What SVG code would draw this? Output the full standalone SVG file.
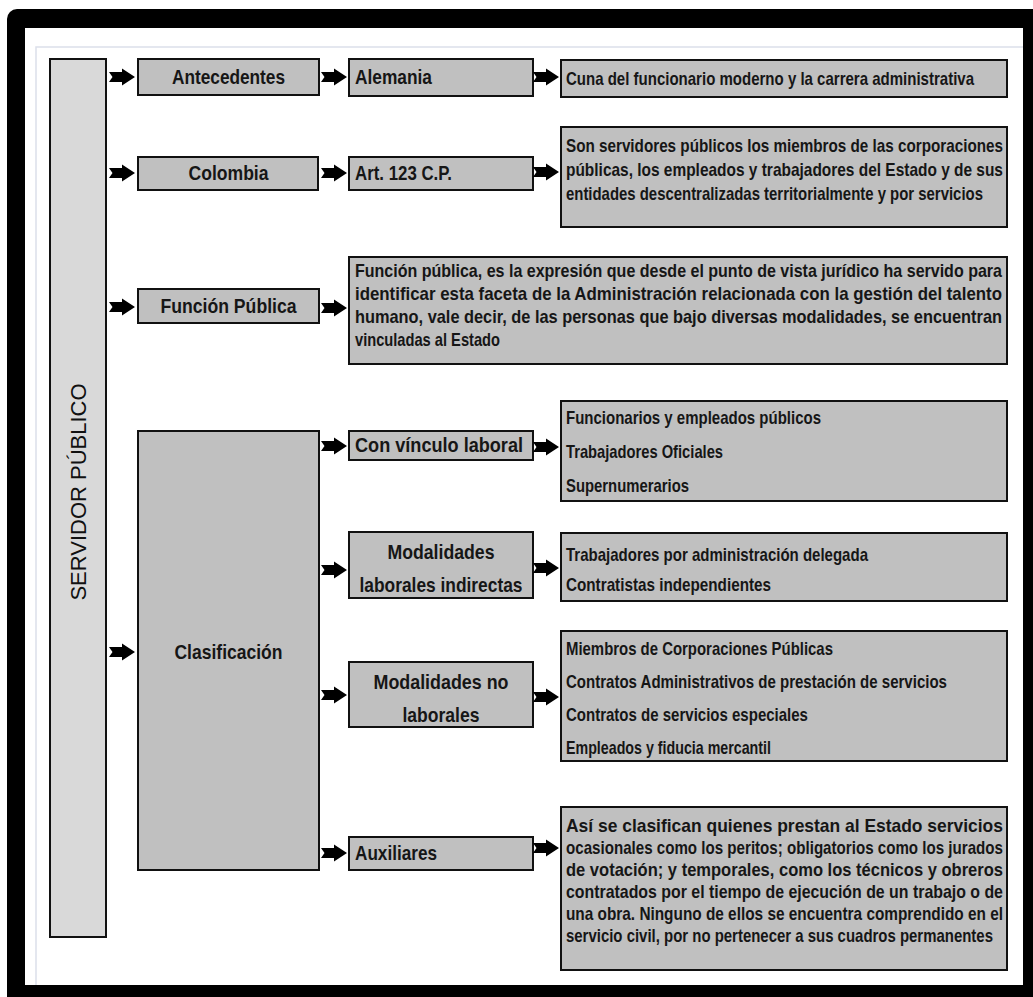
<svg xmlns="http://www.w3.org/2000/svg" width="1033" height="997" viewBox="0 0 1033 997">
<style>
.bx{fill:#c0c0c0;stroke:#111;stroke-width:2}
.sv{fill:#d9d9d9;stroke:#111;stroke-width:2}
.lb{font-family:"Liberation Sans",Arial,sans-serif;font-weight:bold;font-size:21px;fill:#161616}
.tx{font-family:"Liberation Sans",Arial,sans-serif;font-weight:bold;font-size:18px;fill:#161616}
.vt{font-family:"Liberation Sans",Arial,sans-serif;font-size:22px;fill:#111}
</style>
<defs>
<path id="arr" d="M-26,-5 L-13,-5 L-13,-8.5 L0,0 L-13,8.5 L-13,5 L-26,5 L-22.5,0 Z" fill="#000"/>
</defs>
<rect x="7" y="9" width="1040" height="1000" rx="10" fill="#000"/>
<rect x="25" y="28" width="998" height="957" fill="#fff"/>
<path d="M36,985 V47 H1023" fill="none" stroke="#dce0ea" stroke-width="1.5"/>

<g id="servidor">
<rect class="sv" x="50" y="59" width="56" height="878"/>
<text class="vt" transform="translate(86,492) rotate(-90)" text-anchor="middle">SERVIDOR PÚBLICO</text>
</g>

<g id="antecedentes">
<rect class="bx" x="138" y="59" width="181" height="36"/>
<text class="lb" transform="scale(0.82,1)" x="209.76" y="84.5" textLength="137.8" lengthAdjust="spacingAndGlyphs">Antecedentes</text>
</g>
<g id="alemania">
<rect class="bx" x="349" y="59" width="184" height="37"/>
<text class="lb" transform="scale(0.82,1)" x="432.93" y="84.5" textLength="93.9" lengthAdjust="spacingAndGlyphs">Alemania</text>
</g>
<g id="cuna">
<rect class="bx" x="561" y="60" width="446" height="37"/>
<text class="tx" transform="scale(0.82,1)" x="690.24" y="85" textLength="497.6" lengthAdjust="spacingAndGlyphs">Cuna del funcionario moderno y la carrera administrativa</text>
</g>

<g id="colombia">
<rect class="bx" x="138" y="157" width="180" height="33"/>
<text class="lb" transform="scale(0.82,1)" x="229.88" y="180.5" textLength="97.6" lengthAdjust="spacingAndGlyphs">Colombia</text>
</g>
<g id="art123">
<rect class="bx" x="349" y="157" width="184" height="33"/>
<text class="lb" transform="scale(0.82,1)" x="432.93" y="180.5" textLength="118.3" lengthAdjust="spacingAndGlyphs">Art. 123 C.P.</text>
</g>
<g id="servidores-def">
<rect class="bx" x="561" y="127" width="446" height="100"/>
<text class="tx" transform="scale(0.82,1)" x="690.24" y="152.5" textLength="532.9" lengthAdjust="spacingAndGlyphs">Son servidores públicos los miembros de las corporaciones</text>
<text class="tx" transform="scale(0.82,1)" x="690.24" y="176.5" textLength="532.9" lengthAdjust="spacingAndGlyphs">públicas, los empleados y trabajadores del Estado y de sus</text>
<text class="tx" transform="scale(0.82,1)" x="690.24" y="200.5" textLength="508.5" lengthAdjust="spacingAndGlyphs">entidades descentralizadas territorialmente y por servicios</text>
</g>

<g id="funcion-publica">
<rect class="bx" x="138" y="289" width="181" height="34"/>
<text class="lb" transform="scale(0.82,1)" x="195.73" y="313.5" textLength="165.9" lengthAdjust="spacingAndGlyphs">Función Pública</text>
</g>
<g id="funcion-def">
<rect class="bx" x="349" y="257" width="658" height="107"/>
<text class="tx" transform="scale(0.82,1)" x="432.93" y="277.5" textLength="789" lengthAdjust="spacingAndGlyphs">Función pública, es la expresión que desde el punto de vista jurídico ha servido para</text>
<text class="tx" transform="scale(0.82,1)" x="432.93" y="300.5" textLength="789" lengthAdjust="spacingAndGlyphs">identificar esta faceta de la Administración relacionada con la gestión del talento</text>
<text class="tx" transform="scale(0.82,1)" x="432.93" y="323.5" textLength="789" lengthAdjust="spacingAndGlyphs">humano, vale decir, de las personas que bajo diversas modalidades, se encuentran</text>
<text class="tx" transform="scale(0.82,1)" x="432.93" y="346.5" textLength="176.8" lengthAdjust="spacingAndGlyphs">vinculadas al Estado</text>
</g>

<g id="clasificacion">
<rect class="bx" x="138" y="431" width="181" height="439"/>
<text class="lb" transform="scale(0.82,1)" x="212.8" y="659" textLength="131.7" lengthAdjust="spacingAndGlyphs">Clasificación</text>
</g>

<g id="con-vinculo">
<rect class="bx" x="349" y="431" width="184" height="29"/>
<text class="lb" transform="scale(0.82,1)" x="432.93" y="452.5" textLength="204.9" lengthAdjust="spacingAndGlyphs">Con vínculo laboral</text>
</g>
<g id="con-vinculo-list">
<rect class="bx" x="561" y="401" width="446" height="100"/>
<text class="tx" transform="scale(0.82,1)" x="690.24" y="424.5" textLength="311" lengthAdjust="spacingAndGlyphs">Funcionarios y empleados públicos</text>
<text class="tx" transform="scale(0.82,1)" x="690.24" y="458.5" textLength="191.5" lengthAdjust="spacingAndGlyphs">Trabajadores Oficiales</text>
<text class="tx" transform="scale(0.82,1)" x="690.24" y="492.5" textLength="150" lengthAdjust="spacingAndGlyphs">Supernumerarios</text>
</g>

<g id="indirectas">
<rect class="bx" x="349" y="532" width="184" height="66"/>
<text class="lb" transform="scale(0.82,1)" x="472.56" y="559.5" textLength="130.5" lengthAdjust="spacingAndGlyphs">Modalidades</text>
<text class="lb" transform="scale(0.82,1)" x="438.41" y="592.5" textLength="198.8" lengthAdjust="spacingAndGlyphs">laborales indirectas</text>
</g>
<g id="indirectas-list">
<rect class="bx" x="561" y="533" width="446" height="68"/>
<text class="tx" transform="scale(0.82,1)" x="690.24" y="561.5" textLength="368.3" lengthAdjust="spacingAndGlyphs">Trabajadores por administración delegada</text>
<text class="tx" transform="scale(0.82,1)" x="690.24" y="591.5" textLength="250" lengthAdjust="spacingAndGlyphs">Contratistas independientes</text>
</g>

<g id="no-laborales">
<rect class="bx" x="349" y="662" width="184" height="65"/>
<text class="lb" transform="scale(0.82,1)" x="455.49" y="689.5" textLength="164.6" lengthAdjust="spacingAndGlyphs">Modalidades no</text>
<text class="lb" transform="scale(0.82,1)" x="490.85" y="722.5" textLength="93.9" lengthAdjust="spacingAndGlyphs">laborales</text>
</g>
<g id="no-laborales-list">
<rect class="bx" x="561" y="631" width="446" height="130"/>
<text class="tx" transform="scale(0.82,1)" x="690.24" y="655.5" textLength="325.6" lengthAdjust="spacingAndGlyphs">Miembros de Corporaciones Públicas</text>
<text class="tx" transform="scale(0.82,1)" x="690.24" y="688.5" textLength="464.6" lengthAdjust="spacingAndGlyphs">Contratos Administrativos de prestación de servicios</text>
<text class="tx" transform="scale(0.82,1)" x="690.24" y="721.5" textLength="295.1" lengthAdjust="spacingAndGlyphs">Contratos de servicios especiales</text>
<text class="tx" transform="scale(0.82,1)" x="690.24" y="754.5" textLength="250" lengthAdjust="spacingAndGlyphs">Empleados y fiducia mercantil</text>
</g>

<g id="auxiliares">
<rect class="bx" x="349" y="837" width="184" height="33"/>
<text class="lb" transform="scale(0.82,1)" x="432.93" y="860.5" textLength="100" lengthAdjust="spacingAndGlyphs">Auxiliares</text>
</g>
<g id="auxiliares-def">
<rect class="bx" x="561" y="807" width="446" height="163"/>
<text class="tx" transform="scale(0.82,1)" x="690.24" y="832.5" textLength="532.9" lengthAdjust="spacingAndGlyphs">Así  se  clasifican  quienes  prestan  al  Estado  servicios</text>
<text class="tx" transform="scale(0.82,1)" x="690.24" y="854.5" textLength="532.9" lengthAdjust="spacingAndGlyphs">ocasionales como los peritos; obligatorios como los jurados</text>
<text class="tx" transform="scale(0.82,1)" x="690.24" y="876.5" textLength="532.9" lengthAdjust="spacingAndGlyphs">de votación; y temporales, como los técnicos y obreros</text>
<text class="tx" transform="scale(0.82,1)" x="690.24" y="898.5" textLength="532.9" lengthAdjust="spacingAndGlyphs">contratados por el tiempo de ejecución de un trabajo o de</text>
<text class="tx" transform="scale(0.82,1)" x="690.24" y="920.5" textLength="532.9" lengthAdjust="spacingAndGlyphs">una obra. Ninguno de ellos se encuentra comprendido en el</text>
<text class="tx" transform="scale(0.82,1)" x="690.24" y="942.5" textLength="520.7" lengthAdjust="spacingAndGlyphs">servicio civil, por no pertenecer a sus cuadros permanentes</text>
</g>

<g id="connectors">
<use href="#arr" transform="translate(135,77)"/>
<use href="#arr" transform="translate(135,173)"/>
<use href="#arr" transform="translate(135,307)"/>
<use href="#arr" transform="translate(135,652)"/>
<use href="#arr" transform="translate(347,77)"/>
<use href="#arr" transform="translate(347,173)"/>
<use href="#arr" transform="translate(347,308)"/>
<use href="#arr" transform="translate(347,446)"/>
<use href="#arr" transform="translate(347,570)"/>
<use href="#arr" transform="translate(347,695)"/>
<use href="#arr" transform="translate(347,853)"/>
<use href="#arr" transform="translate(559,77)"/>
<use href="#arr" transform="translate(559,172)"/>
<use href="#arr" transform="translate(559,447)"/>
<use href="#arr" transform="translate(559,568)"/>
<use href="#arr" transform="translate(559,697)"/>
<use href="#arr" transform="translate(559,848)"/>
</g>
</svg>
